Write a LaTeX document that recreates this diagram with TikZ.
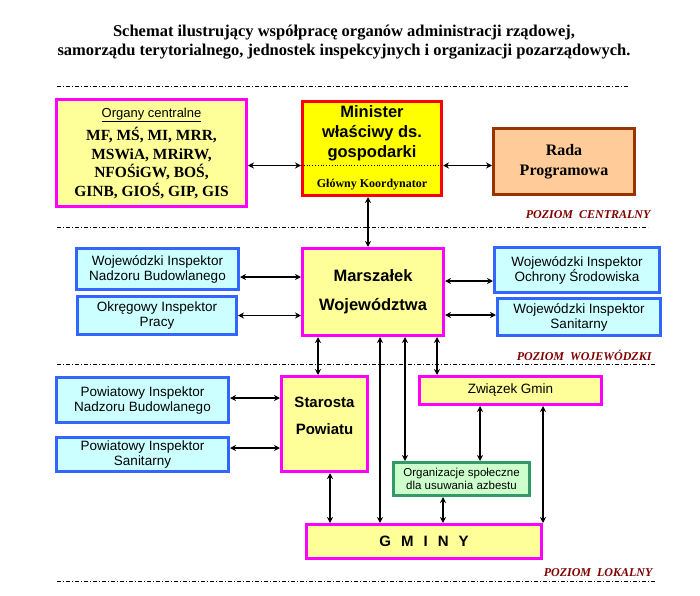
\documentclass[tikz,border=0pt]{standalone}
\usepackage{fontspec}
\setmainfont{Liberation Serif}
\setsansfont{Liberation Sans}
\usepackage{xcolor}
\usetikzlibrary{arrows.meta}

\definecolor{ramkaMag}{HTML}{FF00FF}
\definecolor{jasnyZolty}{HTML}{FFFF99}
\definecolor{ramkaCzerw}{HTML}{FF0000}
\definecolor{zolty}{HTML}{FFFF00}
\definecolor{ramkaBraz}{HTML}{993300}
\definecolor{brzoskw}{HTML}{FFCC99}
\definecolor{ramkaNieb}{HTML}{3366FF}
\definecolor{jasnyCyjan}{HTML}{CCFFFF}
\definecolor{ramkaZiel}{HTML}{339966}
\definecolor{jasnaZiel}{HTML}{CCFFCC}
\definecolor{ciemnyCzerw}{HTML}{800000}

\begin{document}
\begin{tikzpicture}[
        x=1pt, y=-1pt,
        box/.style={rectangle, draw, line width=3pt, align=center, inner sep=0pt},
        organ/.style={box, draw=ramkaMag, fill=jasnyZolty},
        inspektor/.style={box, draw=ramkaNieb, fill=jasnyCyjan, font=\sffamily\fontsize{13.5}{15}\selectfont},
        duzy/.style={font=\sffamily\bfseries\fontsize{16.5}{20}\selectfont},
        arrow/.style={line width=1.5pt, {Stealth[length=6pt,width=6pt]}-{Stealth[length=6pt,width=6pt]}},
        poziom/.style={font=\bfseries\itshape\fontsize{12}{14}\selectfont, text=ciemnyCzerw, anchor=east},
        granica/.style={line width=0.8pt, dash pattern=on 4pt off 2pt on 1pt off 2pt}
    ]
        \useasboundingbox (0,0) rectangle (700,595);

        % Title
        \node[font=\bfseries\fontsize{16.5}{19}\selectfont, align=center] (tytul) at (344,42)
            {Schemat ilustrujący współpracę organów administracji rządowej,\\
             samorządu terytorialnego, jednostek inspekcyjnych i organizacji pozarządowych.};

        % Levels
        \draw[granica] (57,86) -- (628,86);
        \draw[granica] (57,227) -- (648,227);
        \draw[granica] (57,364) -- (655,364);
        \draw[granica] (57,581) -- (655,581);
        \node[poziom] (pCentr) at (654,215) {POZIOM\ \ CENTRALNY};
        \node[poziom] (pWoj) at (655,355) {POZIOM\ \ WOJEWÓDZKI};
        \node[poziom] (pLok) at (656,573) {POZIOM\ \ LOKALNY};

        % Central level
        \node[organ, minimum width=190, minimum height=107,
              font=\bfseries\fontsize{15.5}{18.5}\selectfont] (organy) at (151.5,153)
            {{\sffamily\mdseries\fontsize{13}{14}\selectfont\underline{Organy centralne}}\\[5pt]
             MF, MŚ, MI, MRR,\\MSWiA, MRiRW,\\NFOŚiGW, BOŚ,\\GINB, GIOŚ, GIP, GIS};
        \node[box, draw=ramkaCzerw, fill=zolty, minimum width=139, minimum height=94] (minister) at (372,148.5) {};
        \node[duzy, align=center] (minNazwa) at ([yshift=15]minister.center) {Minister\\właściwy ds.\\gospodarki};
        \node[font=\bfseries\fontsize{12}{14}\selectfont] (minKoord) at ([yshift=-36]minister.center) {Główny Koordynator};
        \draw[dotted, thick] ([yshift=-17]minister.west) -- ([yshift=-17]minister.east);
        \node[box, draw=ramkaBraz, fill=brzoskw, minimum width=141, minimum height=66,
              font=\bfseries\fontsize{16}{20}\selectfont] (rada) at (564,161.5) {Rada\\Programowa};

        % Voivodeship level
        \node[organ, minimum width=141, minimum height=87, font=\sffamily\bfseries\fontsize{16.5}{29}\selectfont] (marszalek) at (373,292) {Marszałek\\Województwa};
        \node[inspektor, minimum width=162, minimum height=41] (winb) at (157.5,269) {Wojewódzki Inspektor\\Nadzoru Budowlanego};
        \node[inspektor, minimum width=159, minimum height=38] (oip) at (157,315.5) {Okręgowy Inspektor\\Pracy};
        \node[inspektor, minimum width=165, minimum height=45] (wios) at (577,270) {Wojewódzki Inspektor\\Ochrony Środowiska};
        \node[inspektor, minimum width=163, minimum height=37] (wis) at (579,317) {Wojewódzki Inspektor\\Sanitarny};

        % Local level
        \node[organ, minimum width=86, minimum height=95] (starosta) at (324.5,424) {};
        \node[font=\sffamily\bfseries\fontsize{15}{27}\selectfont, align=center] (starNazwa) at ([yshift=8]starosta.center) {Starosta\\Powiatu};
        \node[inspektor, minimum width=172, minimum height=45] (pinb) at (142.5,400) {Powiatowy Inspektor\\Nadzoru Budowlanego};
        \node[inspektor, minimum width=172, minimum height=34] (pis) at (142.5,454.5) {Powiatowy Inspektor\\Sanitarny};
        \node[organ, minimum width=182, minimum height=28, font=\sffamily\fontsize{13.5}{15}\selectfont] (zwiazek) at (510.5,390.5) {Związek Gmin};
        \node[box, draw=ramkaZiel, fill=jasnaZiel, minimum width=136, minimum height=33,
              font=\sffamily\fontsize{11.5}{13}\selectfont] (organizacje) at (461.5,479) {Organizacje społeczne\\dla usuwania azbestu};
        \node[organ, minimum width=235, minimum height=34, font=\sffamily\bfseries\fontsize{15}{18}\selectfont] (gminy) at (424,541.5) {\spaceskip=10pt G M I N Y};

        % Arrows
        \draw[arrow] ([yshift=-12.5]organy.east) -- ([yshift=-12.5]organy.east -| minister.west);
        \draw[arrow] ([yshift=-17]minister.east) -- ([yshift=-17]minister.east -| rada.west);
        \draw[arrow] ([xshift=-4]minister.south) -- ([xshift=-4]minister.south |- marszalek.north);
        \draw[arrow] ([yshift=-8]winb.east) -- ([yshift=-8]winb.east -| marszalek.west);
        \draw[arrow] (oip.east) -- (oip.east -| marszalek.west);
        \draw[arrow] ([yshift=-11]wios.west) -- ([yshift=-11]wios.west -| marszalek.east);
        \draw[arrow] ([yshift=2]wis.west) -- ([yshift=2]wis.west -| marszalek.east);
        \draw[arrow] ([xshift=-6.5]starosta.north) -- ([xshift=-6.5]starosta.north |- marszalek.south);
        \draw[arrow] ([xshift=7]marszalek.south) -- ([xshift=7]marszalek.south |- gminy.north);
        \draw[arrow] ([xshift=32]marszalek.south) -- ([xshift=32]marszalek.south |- organizacje.north);
        \draw[arrow] ([xshift=64]marszalek.south) -- ([xshift=64]marszalek.south |- zwiazek.north);
        \draw[arrow] ([yshift=2]pinb.east) -- ([yshift=2]pinb.east -| starosta.west);
        \draw[arrow] ([yshift=6.5]pis.east) -- ([yshift=6.5]pis.east -| starosta.west);
        \draw[arrow] ([xshift=5.5]starosta.south) -- ([xshift=5.5]starosta.south |- gminy.north);
        \draw[arrow] ([xshift=-30.5]zwiazek.south) -- ([xshift=-30.5]zwiazek.south |- organizacje.north);
        \draw[arrow] ([xshift=32.5]zwiazek.south) -- ([xshift=32.5]zwiazek.south |- gminy.north);
        \draw[arrow] ([xshift=-18.5]organizacje.south) -- ([xshift=-18.5]organizacje.south |- gminy.north);
    \end{tikzpicture}
\end{document}
